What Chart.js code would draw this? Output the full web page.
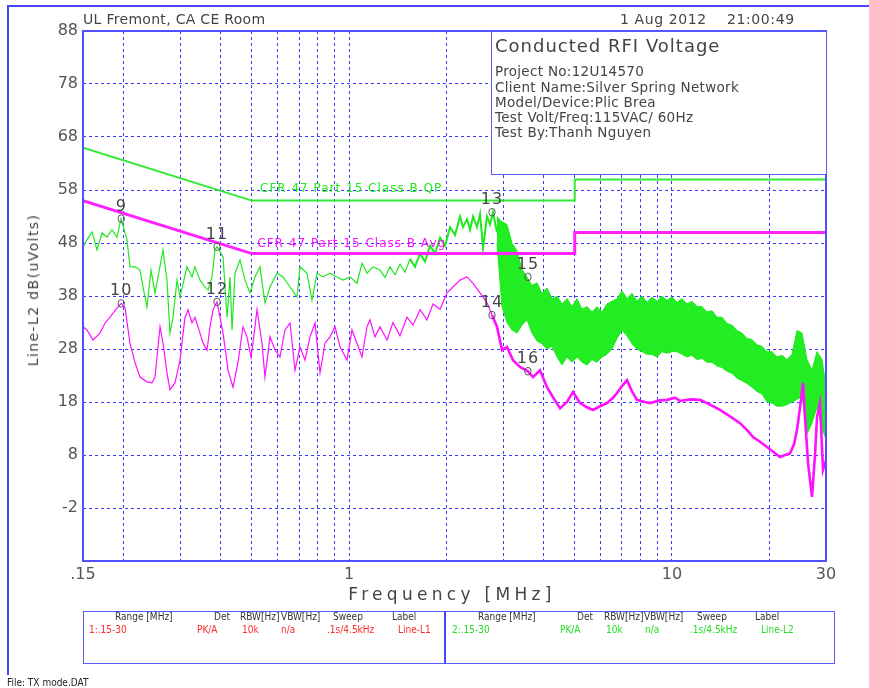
<!DOCTYPE html>
<html><head><meta charset="utf-8">
<script src="https://cdn.jsdelivr.net/npm/chart.js@4/dist/chart.umd.min.js"></script>
<style>
body{margin:0;background:#fff;}
#wrap{position:relative;width:869px;height:688px;overflow:hidden;font-family:"DejaVu Sans",sans-serif;color:#444;}
canvas{position:absolute;left:0;top:0;}
.t{position:absolute;white-space:nowrap;line-height:1;}
.ln{position:absolute;background:#4646ff;}
.tb{font-family:"DejaVu Sans Condensed","Liberation Sans Narrow","DejaVu Sans",sans-serif;font-size:10px;}
</style></head><body>
<div id="wrap">
<canvas id="c" width="869" height="688"></canvas>
<div class="ln" style="left:7px;top:5px;width:862px;height:1.5px"></div>
<div class="ln" style="left:7px;top:5px;width:1.5px;height:670px"></div>
<div class="t" style="left:83px;top:12px;font-size:14px;letter-spacing:0.3px">UL Fremont, CA CE Room</div>
<div class="t" style="left:620px;top:12px;font-size:14px;letter-spacing:0.6px">1 Aug 2012&nbsp;&nbsp;&nbsp;&nbsp;21:00:49</div>
<div style="position:absolute;left:491px;top:31px;width:334px;height:142px;border:1.5px solid #5a5aff;background:#fff"></div>
<div class="t" style="left:495px;top:37px;font-size:18px;letter-spacing:1px">Conducted RFI Voltage</div>
<div class="t" style="left:495px;top:65px;font-size:13.5px;letter-spacing:0.3px">Project No:12U14570</div>
<div class="t" style="left:495px;top:81px;font-size:13.5px;letter-spacing:0.3px">Client Name:Silver Spring Network</div>
<div class="t" style="left:495px;top:96px;font-size:13.5px;letter-spacing:0.3px">Model/Device:Plic Brea</div>
<div class="t" style="left:495px;top:111px;font-size:13.5px;letter-spacing:0.3px">Test Volt/Freq:115VAC/ 60Hz</div>
<div class="t" style="left:495px;top:126px;font-size:13.5px;letter-spacing:0.3px">Test By:Thanh Nguyen</div>
<div class="t" style="left:33px;top:290px;font-size:14px;letter-spacing:1.4px;transform:translate(-50%,-50%) rotate(-90deg)">Line-L2 dB(uVolts)</div>
<div class="t" style="left:452px;top:594px;font-size:17px;letter-spacing:4.3px;transform:translate(-50%,-50%)">Frequency [MHz]</div>
<div style="position:absolute;left:83px;top:611px;width:750px;height:51px;border:1.5px solid #5a5aff"></div>
<div class="ln" style="left:444px;top:611px;width:1.5px;height:53px"></div>
<div class="t tb" style="left:115px;top:612px;color:#333">Range [MHz]</div>
<div class="t tb" style="left:214px;top:612px;color:#333">Det</div>
<div class="t tb" style="left:240px;top:612px;color:#333">RBW[Hz]</div>
<div class="t tb" style="left:281px;top:612px;color:#333">VBW[Hz]</div>
<div class="t tb" style="left:333px;top:612px;color:#333">Sweep</div>
<div class="t tb" style="left:392px;top:612px;color:#333">Label</div>
<div class="t tb" style="left:89px;top:625px;color:#ff2a2a">1:.15-30</div>
<div class="t tb" style="left:197px;top:625px;color:#ff2a2a">PK/A</div>
<div class="t tb" style="left:242px;top:625px;color:#ff2a2a">10k</div>
<div class="t tb" style="left:281px;top:625px;color:#ff2a2a">n/a</div>
<div class="t tb" style="left:327px;top:625px;color:#ff2a2a">.1s/4.5kHz</div>
<div class="t tb" style="left:398px;top:625px;color:#ff2a2a">Line-L1</div>
<div class="t tb" style="left:478px;top:612px;color:#333">Range [MHz]</div>
<div class="t tb" style="left:577px;top:612px;color:#333">Det</div>
<div class="t tb" style="left:604px;top:612px;color:#333">RBW[Hz]</div>
<div class="t tb" style="left:644px;top:612px;color:#333">VBW[Hz]</div>
<div class="t tb" style="left:697px;top:612px;color:#333">Sweep</div>
<div class="t tb" style="left:755px;top:612px;color:#333">Label</div>
<div class="t tb" style="left:452px;top:625px;color:#22dd22">2:.15-30</div>
<div class="t tb" style="left:560px;top:625px;color:#22dd22">PK/A</div>
<div class="t tb" style="left:606px;top:625px;color:#22dd22">10k</div>
<div class="t tb" style="left:645px;top:625px;color:#22dd22">n/a</div>
<div class="t tb" style="left:690px;top:625px;color:#22dd22">.1s/4.5kHz</div>
<div class="t tb" style="left:761px;top:625px;color:#22dd22">Line-L2</div>
<div class="t tb" style="left:7px;top:678px;color:#222">File: TX mode.DAT</div>
</div>
<script>
// ---- data ----
const qpFreq = [0.15, 0.5, 5, 5, 30];
const qpLimit = [66, 56, 56, 60, 60];
const avgFreq = [0.15, 0.5, 5, 5, 30];
const avgLimit = [56, 46, 46, 50, 50];

const l2Freq = [0.15,0.1543,0.160,0.1658,0.1718,0.178,0.1844,0.1911,0.1967,0.2053,0.2097,0.2174,0.2252,0.2301,0.2367,0.2436,0.2507,0.2561,0.2654,0.273,0.2789,0.285,0.2933,0.2996,0.3148,0.3263,0.3334,0.3455,0.358,0.3658,0.3764,0.3845,0.39,0.4072,0.419,0.428,0.4341,0.4435,0.4596,0.4763,0.4934,0.5113,0.5299,0.5491,0.5691,0.5982,0.6244,0.6564,0.6899,0.7048,0.7409,0.7677,0.7956,0.8304,0.8729,0.9175,0.9577,1.007,1.058,1.097,1.137,1.186,1.247,1.292,1.339,1.388,1.438,1.490,1.545,1.600,1.659,1.719,1.782,1.846,1.914,1.983,2.055,2.130,2.207,2.254,2.319,2.370,2.421,2.491,2.545,2.600,2.675,2.732,2.791,2.872];
const l2Level = [47.2,48.6,50.1,46.7,49.9,49.1,50.5,49.1,52.6,48.6,43.5,43.5,42.9,39.7,35.9,42.9,38.6,41.6,46.7,41.0,31.0,34.0,41.0,37.8,43.5,41.6,43.5,41.0,39.7,39.1,41.6,46.7,47.3,45.4,34.0,41.6,31.6,42.3,44.8,41.0,38.6,41.6,43.5,36.7,39.7,42.3,41.6,39.7,37.8,43.5,42.3,37.2,42.3,41.6,42.3,41.6,41.0,41.6,40.4,44.2,42.3,43.5,42.9,41.5,43.5,42.0,44.0,42.5,45.0,43.5,46.0,44.5,47.5,46.0,49.0,47.5,51.0,49.5,53.0,51.0,52.5,50.5,53.0,51.0,53.5,47.0,53.0,51.5,53.8,50.0];

const l2BandFreq = [2.872,2.976,3.084,3.196,3.312,3.433,3.557,3.686,3.820,3.959,4.103,4.252,4.406,4.566,4.732,4.903,5.081,5.266,5.457,5.655,5.860,6.073,6.293,6.522,6.759,7.004,7.258,7.522,7.795,8.078,8.371,8.675,8.990,9.316,9.654,10.005,10.37,10.74,11.13,11.54,11.96,12.39,12.84,13.31,13.79,14.29,14.81,15.35,15.90,16.48,17.08,17.70,18.34,19.01,19.70,20.41,21.15,21.92,22.72,23.54,24.40,25.28,26.20,27.15,28.14,29.16,30];
const l2BandHigh = [53.0,52.0,51.5,48.0,46.5,43.0,41.6,40.0,40.5,38.5,39.5,37.5,38.0,36.5,37.5,36.0,37.5,35.5,36.0,35.0,36.0,35.0,36.5,37.0,37.5,39.0,37.5,38.5,37.0,38.0,36.8,37.8,37.0,38.0,37.2,37.8,36.8,37.5,36.5,37.0,36.0,36.0,35.0,35.2,34.0,34.0,32.8,32.5,31.5,31.0,30.0,29.8,28.8,28.5,27.5,27.5,26.5,26.8,26.0,27.0,31.5,31.0,26.0,24.0,27.5,26.0,21.0];
const l2BandLow = [48.0,36.0,33.0,31.6,31.0,32.5,33.5,31.0,29.5,29.0,28.0,28.5,26.5,25.0,26.5,25.5,26.5,25.5,25.0,26.0,25.5,26.5,27.0,28.0,30.0,31.5,30.5,29.0,28.0,27.5,27.0,27.0,26.5,27.5,27.2,27.5,27.5,27.0,26.5,26.8,26.0,26.2,25.5,25.5,24.8,24.5,23.8,23.4,22.5,22.0,21.5,20.8,20.0,19.5,18.0,17.8,17.2,17.2,17.5,18.0,18.5,19.0,12.0,14.0,17.0,13.0,11.0];

const l1Freq = [0.15,0.1543,0.1611,0.1693,0.1755,0.1818,0.1911,0.197,0.2024,0.2097,0.2174,0.2252,0.2367,0.2453,0.2507,0.2598,0.2654,0.273,0.2789,0.2891,0.2996,0.3105,0.3172,0.3263,0.3334,0.3455,0.3530,0.3632,0.3710,0.3791,0.39,0.4072,0.4219,0.4371,0.4529,0.4694,0.4830,0.4970,0.5041,0.5187,0.5376,0.5491,0.5691,0.5898,0.6111,0.6333,0.6564,0.6803,0.7048,0.7305,0.7570,0.7845,0.8130,0.8425,0.8729,0.9048,0.9377,0.9857,1.021,1.058,1.097,1.137,1.161,1.203,1.247,1.311,1.368,1.438,1.512,1.578,1.659,1.743,1.820,1.914,2.011,2.099,2.207,2.319,2.421,2.545,2.675,2.772,2.872,2.977,3.084,3.219,3.384,3.58,3.713,3.903,4.103,4.283,4.502,4.731,4.939,5.193,5.457,5.695,5.988,6.294,6.570,6.759,7.005,7.257,7.521,7.794,8.253,8.553,9.185,9.657,10.22,10.59,11.38,12.22,13.12,14.09,15.13,16.25,17.21,17.83,18.74,19.70,20.57,21.61,22.40,23.20,23.88,24.39,24.93,25.47,25.84,26.39,27.15,27.74,28.14,28.74,29.37,30];
const l1Level = [32.2,31.6,29.7,31.0,32.9,34.0,35.7,36.6,35.8,29.1,25.4,22.7,21.8,21.6,22.7,32.2,29.1,23.5,20.3,21.6,25.9,34.0,35.4,32.9,34.0,31.0,29.1,27.8,32.2,35.4,36.9,31.0,24.0,20.8,25.4,32.2,30.3,26.5,29.1,35.4,29.1,22.7,30.3,27.8,26.5,31.6,32.9,24.0,28.4,25.9,30.3,32.9,23.5,29.1,30.3,32.2,28.4,25.9,31.6,29.1,26.5,32.2,33.5,30.3,32.2,29.7,33.0,30.5,34.0,32.5,35.4,33.5,36.5,35.5,38.6,39.7,41.0,41.6,40.4,38.6,36.7,34.4,32.2,27.8,28.4,25.9,24.6,23.8,22.7,24.0,20.8,18.9,16.8,18.0,19.9,17.8,17.0,16.5,17.2,17.8,18.8,19.7,21.0,22.1,20.0,18.4,18.0,17.8,18.3,18.4,18.8,18.2,18.5,18.4,17.5,16.5,15.3,14.0,12.5,11.4,10.5,9.5,8.6,7.6,8.0,8.3,10.0,12.7,17.0,21.6,15.0,6.5,0.1,8.0,15.2,17.8,5.2,7.0];

const markerLabels = ['9','10','11','12','13','14','15','16'];
const markerFreq = [0.197,0.197,0.39,0.39,2.772,2.772,3.58,3.58];
const markerLevel = [52.6,36.6,47.3,36.9,53.8,34.4,41.6,23.8];

const limitLabelText = ['CFR 47 Part 15 Class B QP','CFR 47 Part 15 Class B Avg'];
const limitLabelFreq = [0.53, 0.52];
const limitLabelLevel = [58.2, 47.8];

const xGridValues = [0.15,0.2,0.3,0.4,0.5,0.6,0.7,0.8,0.9,1,2,3,4,5,6,7,8,9,10,20,30];
const xLabelValues = [0.15,1,10,30];
const xLabelTexts = ['.15','1','10','30'];
const yLabelValues = [-2,8,18,28,38,48,58,68,78,88];

// ---- build ----
const pts = (fs, vs) => fs.map((f,i)=>({x:f,y:vs[i]}));
const GREEN = '#1fe81f', MAG = '#ff10ff', GRID = '#3a3aff';

const overlay = {
  id:'overlay',
  afterDatasetsDraw(chart){
    const {ctx, chartArea:a, scales:{x,y}} = chart;
    ctx.save();
    ctx.font = '12px "DejaVu Sans"';
    ctx.textBaseline = 'middle'; ctx.textAlign = 'left';
    ctx.letterSpacing = '1px';
    limitLabelText.forEach((t,i)=>{
      ctx.fillStyle = i===0 ? GREEN : MAG;
      ctx.fillText(t, x.getPixelForValue(limitLabelFreq[i]), y.getPixelForValue(limitLabelLevel[i]));
    });
    ctx.font = '16px "DejaVu Sans"';
    ctx.letterSpacing = '1px';
    ctx.textAlign = 'center'; ctx.textBaseline = 'alphabetic';
    ctx.fillStyle = '#444'; ctx.strokeStyle = '#555'; ctx.lineWidth = 1;
    markerLabels.forEach((t,i)=>{
      const px = x.getPixelForValue(markerFreq[i]), py = y.getPixelForValue(markerLevel[i]);
      ctx.beginPath(); ctx.ellipse(px, py, 3.2, 3.8, 0, 0, Math.PI*2); ctx.stroke();
      ctx.fillText(t, px, py - 8);
    });
    ctx.strokeStyle = '#5050ff'; ctx.lineWidth = 2;
    ctx.strokeRect(a.left, a.top, a.right-a.left, a.bottom-a.top);
    ctx.restore();
  }
};

new Chart(document.getElementById('c'), {
  type:'line',
  data:{datasets:[
    {label:'QP limit', data:pts(qpFreq,qpLimit), borderColor:'#33ea33', borderWidth:2},
    {label:'Avg limit', data:pts(avgFreq,avgLimit), borderColor:'#ff22ff', borderWidth:3},
    {label:'Line-L1', data:pts(l1Freq,l1Level), borderColor:MAG, borderWidth:1.2,
      segment:{borderWidth:c=> c.p0.parsed.x > 2.7 ? 2.6 : 1.2}},
    {label:'Line-L2', data:pts(l2Freq,l2Level), borderColor:GREEN, borderWidth:1.2,
      segment:{borderWidth:c=> c.p0.parsed.x > 1.5 ? 2 : 1.2}},
    {label:'Line-L2 max', data:pts(l2BandFreq,l2BandHigh), borderColor:GREEN, borderWidth:1},
    {label:'Line-L2 min', data:pts(l2BandFreq,l2BandLow), borderColor:GREEN, borderWidth:1, fill:'-1', backgroundColor:'#22ec22'}
  ]},
  options:{
    responsive:false, animation:false, devicePixelRatio:1,
    layout:{padding:{left:0,top:31,right:43,bottom:0}},
    plugins:{legend:{display:false}, tooltip:{enabled:false}},
    elements:{point:{radius:0}, line:{tension:0}},
    scales:{
      x:{type:'logarithmic', min:0.15, max:30,
        afterBuildTicks:s=>{ s.ticks = xGridValues.map(v=>({value:v})); },
        afterFit:s=>{ s.height = 127; },
        grid:{color:GRID, lineWidth:1, drawTicks:false},
        border:{display:false, dash:[3,3]},
        ticks:{autoSkip:false, maxRotation:0, minRotation:0, padding:4, color:'#555',
          font:{family:'DejaVu Sans', size:16},
          callback:(v)=>{ const k = xLabelValues.findIndex(u=>Math.abs(u-v)<1e-9); return k>=0 ? xLabelTexts[k] : ''; }}
      },
      y:{min:-12, max:88,
        afterBuildTicks:s=>{ s.ticks = [-12].concat(yLabelValues).map(v=>({value:v})); },
        afterFit:s=>{ s.width = 83; },
        grid:{color:GRID, lineWidth:1, drawTicks:false},
        border:{display:false, dash:[3,3]},
        ticks:{padding:5, color:'#555', font:{family:'DejaVu Sans', size:16},
          callback:(v)=> yLabelValues.includes(v) ? String(v) : ''}
      }
    }
  },
  plugins:[overlay]
});
</script>
</body></html>
